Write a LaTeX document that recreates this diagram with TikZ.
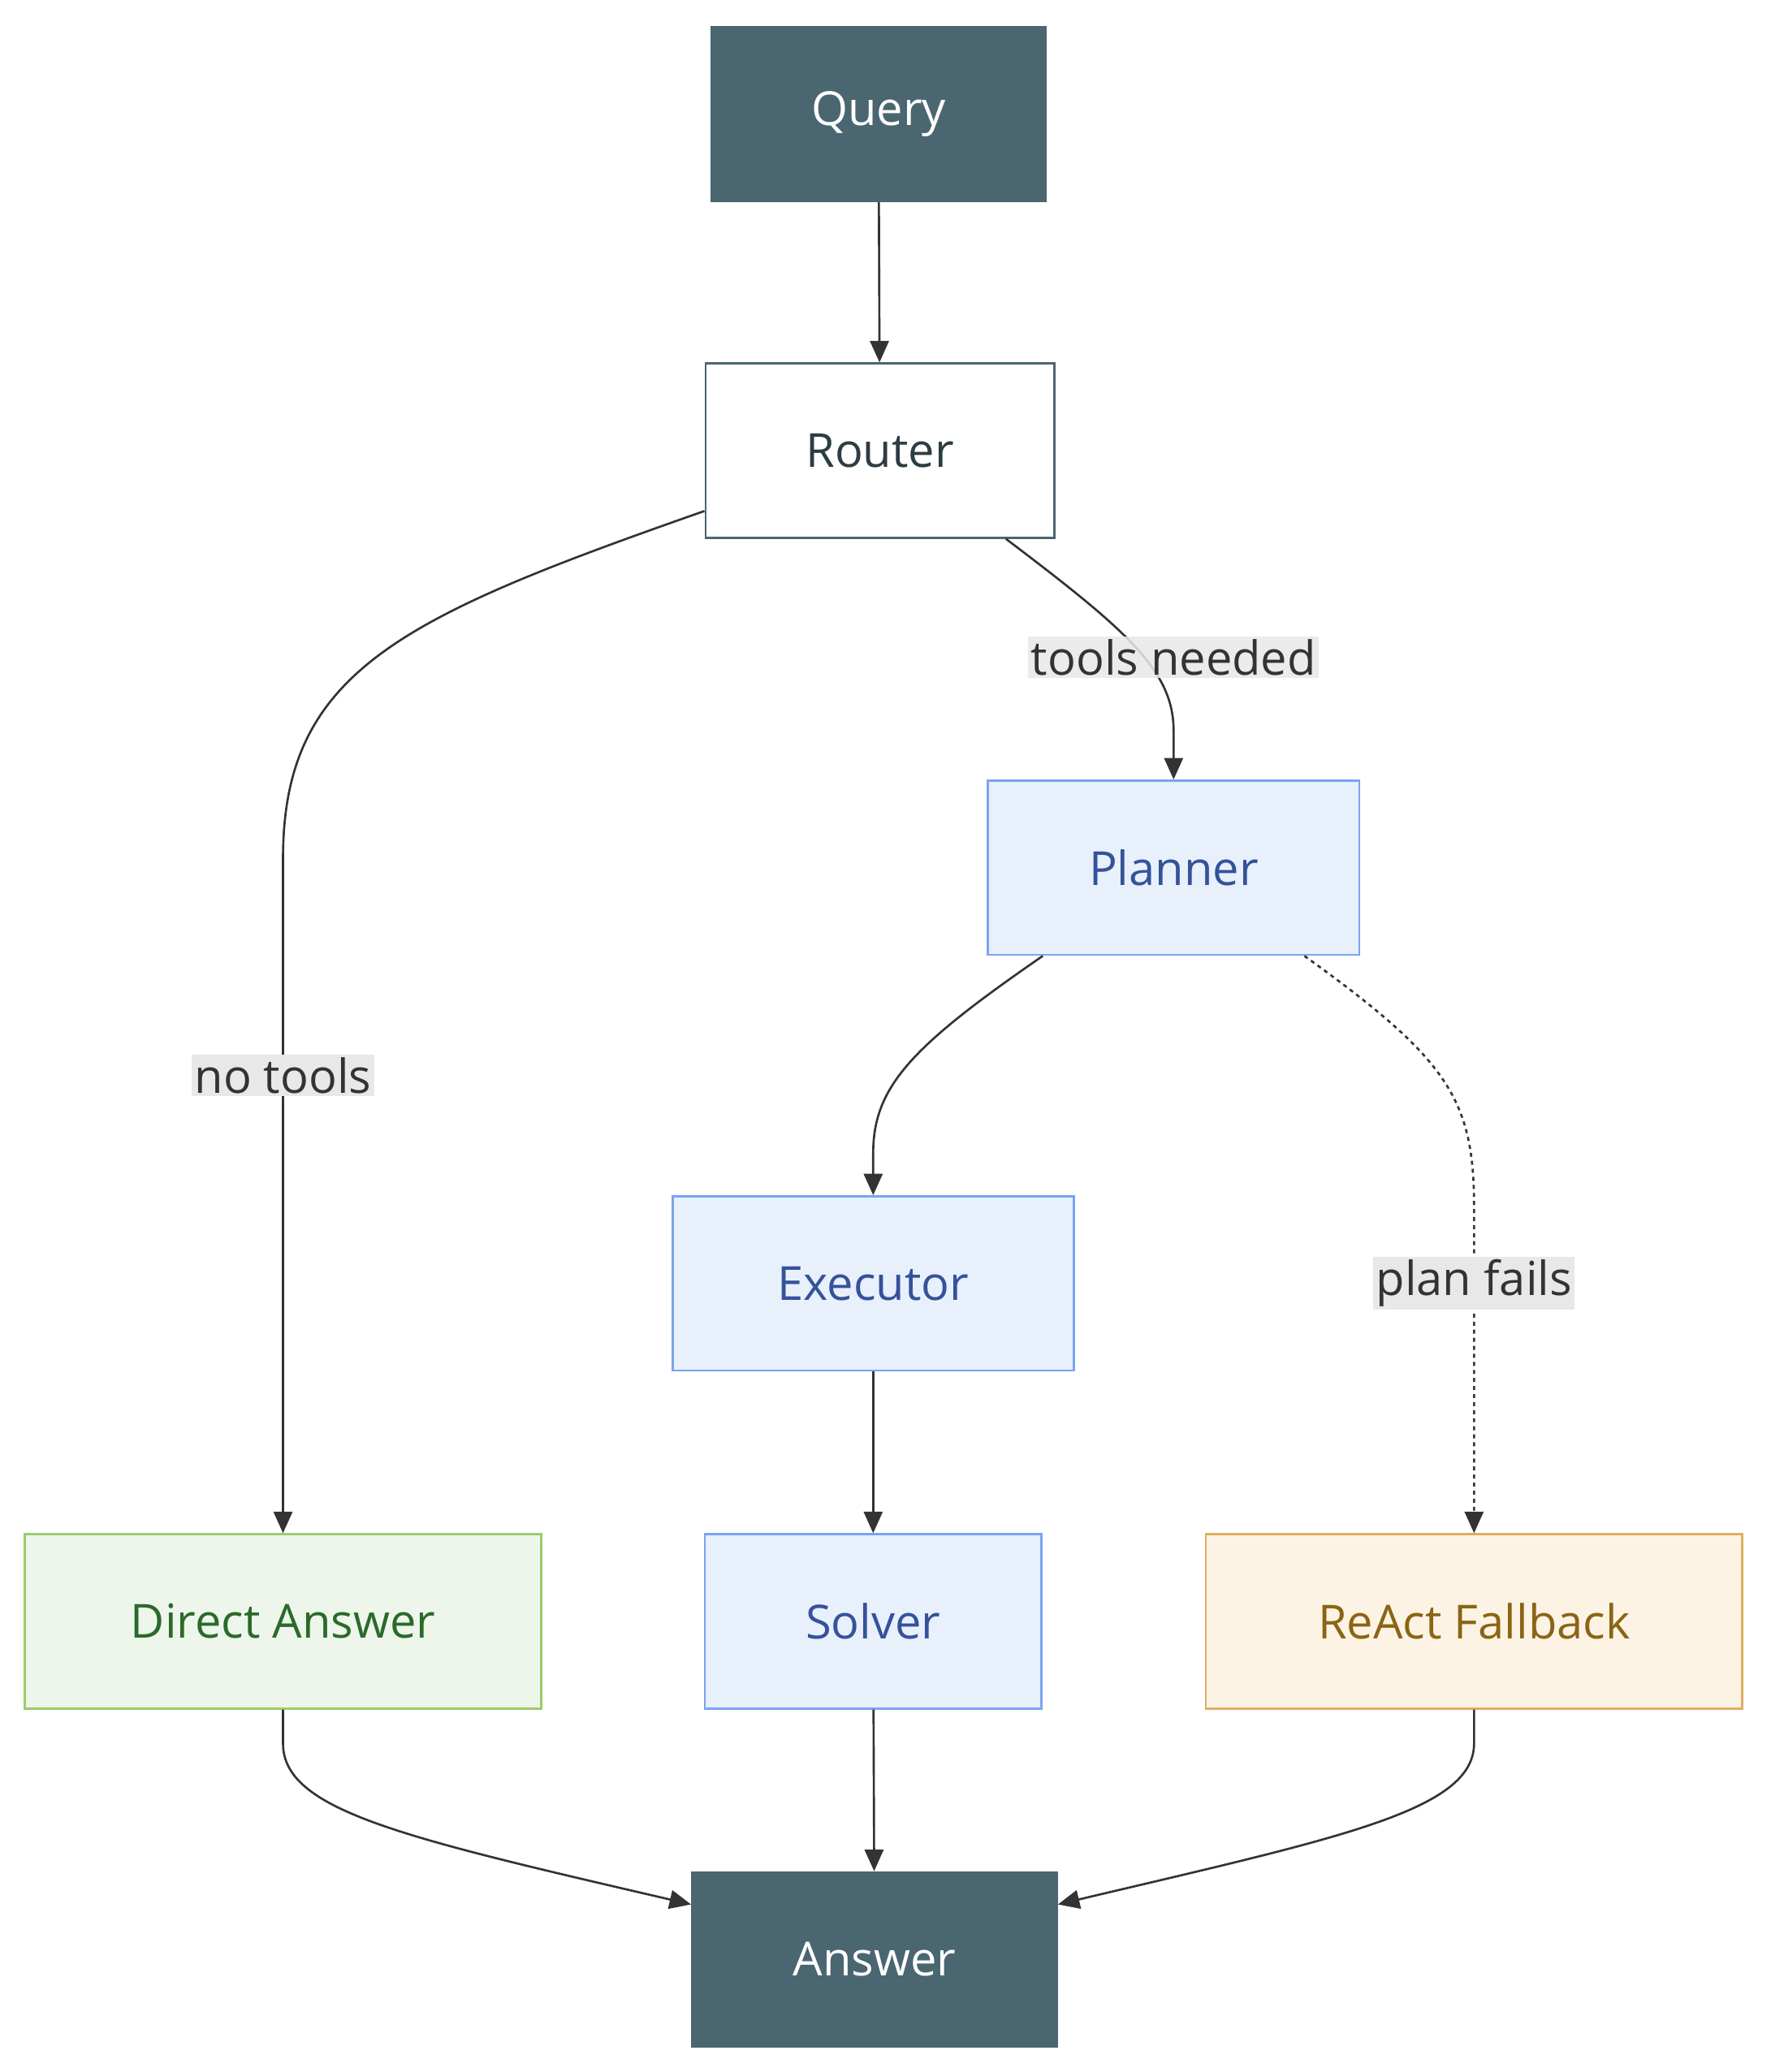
\documentclass[tikz,border=0pt]{standalone}
\usepackage{fontspec}
\setmainfont{Open Sans}
\usetikzlibrary{arrows.meta}
\definecolor{slate}{HTML}{4A6670}
\definecolor{blueF}{HTML}{E8F0FC}
\definecolor{blueD}{HTML}{7BA3F0}
\definecolor{blueT}{HTML}{35529A}
\definecolor{greenF}{HTML}{EEF6EC}
\definecolor{greenD}{HTML}{9CCC6A}
\definecolor{greenT}{HTML}{2A6A2A}
\definecolor{orangeF}{HTML}{FDF3E5}
\definecolor{orangeD}{HTML}{E0AD60}
\definecolor{orangeT}{HTML}{8A6514}
\definecolor{edge}{HTML}{333333}
\tikzset{
  box/.style={draw, line width=1.6pt, minimum height=130pt, font=\fontsize{35}{35}\selectfont, inner sep=0pt},
  term/.style={box, fill=slate, draw=slate, text=white},
  route/.style={box, fill=white, draw=slate, text=slate!60!black},
  stage/.style={box, fill=blueF, draw=blueD, text=blueT},
  direct/.style={box, fill=greenF, draw=greenD, text=greenT},
  fallback/.style={box, fill=orangeF, draw=orangeD, text=orangeT},
  lbl/.style={fill=gray!18, inner sep=2pt, font=\fontsize{35}{35}\selectfont, text=edge},
  flow/.style={draw=edge, line width=1.6pt, -{Triangle[length=16pt,width=14pt]}},
}
\begin{document}
\begin{tikzpicture}[x=1pt,y=-1pt]
\useasboundingbox (0,0) rectangle (1320,1545);
% nodes
\node[term, minimum width=249pt] (query) at (655,85) {Query};
\node[route, minimum width=260pt] (router) at (656,336) {Router};
\node[stage, minimum width=277pt] (planner) at (875,647) {Planner};
\node[stage, minimum width=299pt] (executor) at (651,957) {Executor};
\node[direct, minimum width=385pt] (directans) at (211,1209) {Direct Answer};
\node[stage, minimum width=251pt] (solver) at (651,1209) {Solver};
\node[fallback, minimum width=400pt] (react) at (1099,1209) {ReAct Fallback};
\node[term, minimum width=272pt] (answer) at (652,1461) {Answer};
% edges
\draw[flow] (query) -- (router);
\draw[flow] (router.199) .. controls (300,460) and (211,500) .. (211,640) -- (directans.north);
\draw[flow] (router.-35.6) .. controls (840,470) and (875,500) .. (875,545) -- (planner.north);
\draw[flow] (planner.214) .. controls (680,780) and (651,810) .. (651,860) -- (executor.north);
\draw[flow, dash pattern=on 3pt off 3pt] (planner.-34) .. controls (1080,790) and (1099,820) .. (1099,900) -- (react.north);
\draw[flow] (executor) -- (solver);
\draw[flow] (solver) -- (answer);
\draw[flow] (directans.south) -- (211,1300) .. controls (211,1350) and (300,1370) .. (answer.west |- 0,1420);
\draw[flow] (react.south) -- (1099,1300) .. controls (1099,1350) and (1000,1370) .. (answer.east |- 0,1420);
% labels
\node[lbl] (l1) at (211,802) {no tools};
\node[lbl, fill opacity=0.85, text opacity=1] (l2) at (875,490) {tools needed};
\node[lbl] (l3) at (1099,957) {plan fails};
\end{tikzpicture}
\end{document}
